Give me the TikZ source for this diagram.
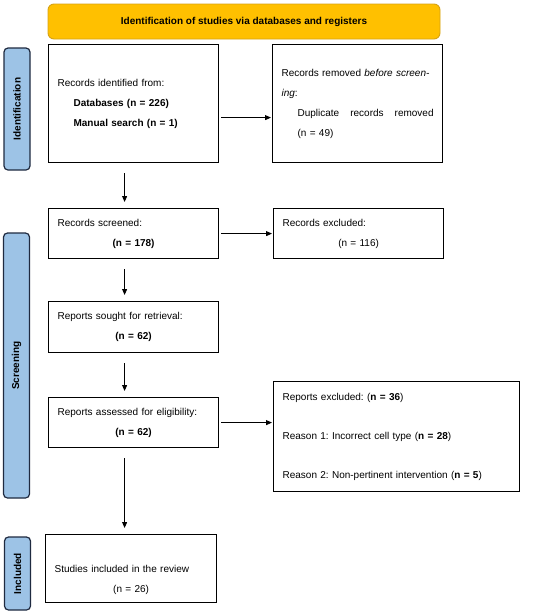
\documentclass[tikz,border=0pt]{standalone}
\usepackage{fontspec}
\setmainfont{Liberation Sans}
\frenchspacing
\usetikzlibrary{arrows.meta,positioning}
\definecolor{prbanner}{RGB}{255,192,0}
\definecolor{prbannerline}{RGB}{214,162,20}
\definecolor{prphase}{RGB}{157,195,230}
\definecolor{prphaseline}{RGB}{31,42,64}
\tikzset{
  recbox/.style={draw=black, line width=1.2pt, fill=white, anchor=north west,
                 font=\fontsize{10}{20}\selectfont, align=left,
                 inner xsep=9pt, inner ysep=0pt},
  banner/.style={draw=prbannerline, line width=0.9pt, fill=prbanner, rounded corners=6pt,
                 font=\fontsize{10}{12}\selectfont\bfseries, minimum width=392pt, minimum height=35pt},
  phase/.style={draw=prphaseline, line width=1.2pt, fill=prphase, rounded corners=4pt,
                font=\fontsize{10}{12}\selectfont\bfseries, rotate=90, inner sep=0pt,
                minimum height=26pt, minimum width=#1},
  flow/.style={-{Triangle[length=6pt,width=5pt]}, line width=0.8pt,
               shorten <=10pt, shorten >=6pt},
  side/.style={-{Triangle[length=6pt,width=5pt]}, line width=0.8pt,
               shorten <=2pt, shorten >=1pt},
}
\begin{document}
\begin{tikzpicture}[x=1pt, y=-1pt]
  \useasboundingbox (0,0) rectangle (550,614);

  % Header and phases
  \node[banner] (head) at (244,21.5) {Identification of studies via databases and registers};
  \node[phase=122pt] (phid) at (17,109) {Identification};
  \node[phase=265pt] (phscr) at (16.5,365.5) {Screening};
  \node[phase=73pt] (phinc) at (17.5,573.5) {Included};

  % Identification
  \node[recbox, text width=152pt, minimum height=118pt] (idrec) at (48,44)
       {Records identified from:\\
        \hspace*{16pt}\textbf{Databases (n = 226)}\\
        \hspace*{16pt}\textbf{Manual search (n = 1)}};
  \node[recbox, text width=152pt, minimum height=118pt] (dup) at (272,44)
       {Records removed \textit{before screen-}\\
        \textit{ing}:\\
        \hspace*{16pt}Duplicate\hfill records\hfill removed\\
        \hspace*{16pt}(n = 49)};

  % Screening
  \node[recbox, text width=152pt, minimum height=50pt] (screen) at (48,208)
       {Records screened:\\ \hfill\textbf{(n = 178)}\hfill\mbox{}};
  \node[recbox, text width=152pt, minimum height=50pt] (exscreen) at (273,208)
       {Records excluded:\\ \hfill(n = 116)\hfill\mbox{}};
  \node[recbox, text width=152pt, minimum height=51pt] (sought) at (48,301)
       {Reports sought for retrieval:\\ \hfill\textbf{(n = 62)}\hfill\mbox{}};
  \node[recbox, text width=152pt, minimum height=50pt] (assess) at (48,397)
       {Reports assessed for eligibility:\\ \hfill\textbf{(n = 62)}\hfill\mbox{}};
  \node[recbox, text width=228pt, minimum height=110pt] (exrep) at (273,381)
       {Reports excluded: (\textbf{n = 36})\\[19pt]
        Reason 1: Incorrect cell type (\textbf{n = 28})\\[19pt]
        Reason 2: Non-pertinent intervention (\textbf{n = 5})};

  % Included
  \node[recbox, text width=153pt, minimum height=68pt] (incl) at (45,534)
       {\mbox{}\\[10pt] Studies included in the review\\ \hfill(n = 26)\hfill\mbox{}};

  % Arrows
  \draw[side] ([yshift=-14pt]idrec.east) -- ([yshift=-14pt]idrec.east -| dup.west);
  \draw[side] (screen.east) -- (screen.east -| exscreen.west);
  \draw[side] (assess.east) -- (assess.east -| exrep.west);
  \draw[flow] ([xshift=-9pt]idrec.south) -- ([xshift=-9pt]idrec.south |- screen.north);
  \draw[flow] ([xshift=-9pt]screen.south) -- ([xshift=-9pt]screen.south |- sought.north);
  \draw[flow] ([xshift=-9pt]sought.south) -- ([xshift=-9pt]sought.south |- assess.north);
  \draw[flow] ([xshift=-9pt]assess.south) -- ([xshift=-9pt]assess.south |- incl.north);

\end{tikzpicture}
\end{document}
